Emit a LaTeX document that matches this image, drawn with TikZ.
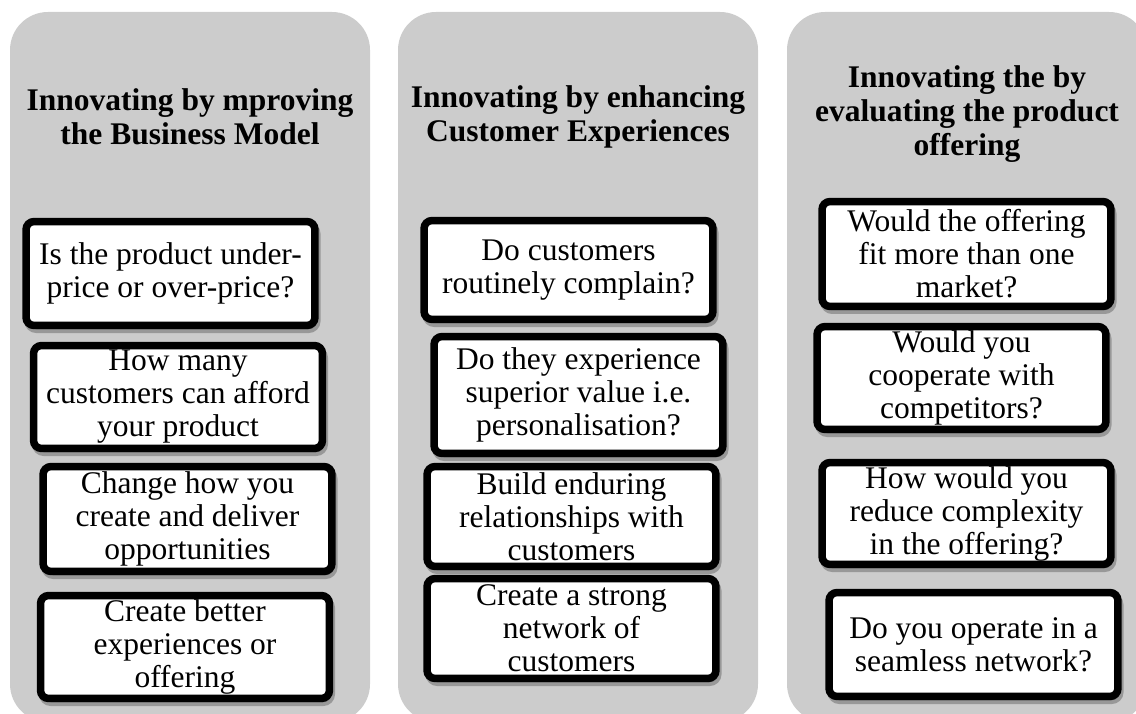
\documentclass[tikz,border=0pt]{standalone}
\usepackage{fontspec}
\setmainfont{Liberation Serif}
\usetikzlibrary{shadows}
\definecolor{panelgrey}{RGB}{204,204,204}
\newcommand{\qfont}{\fontsize{31.5}{33}\selectfont}
\newcommand{\hfont}{\bfseries\fontsize{31.5}{34}\selectfont}

\begin{document}
\begin{tikzpicture}[x=1pt, y=-1pt,
    panel/.style={fill=panelgrey, rounded corners=38pt},
    head/.style={font=\hfont, align=center, inner sep=0pt},
    qbox/.style={fill=white, rounded corners=8pt, inner sep=0pt, align=center, font=\qfont,
        minimum width=288.5pt, minimum height=#1,
        drop shadow={shadow xshift=2pt, shadow yshift=-4pt, fill=black, draw=black, line width=7.5pt, opacity=0.25}},
    qedge/.style={draw=black, line width=7.5pt, rounded corners=8pt}]
    \useasboundingbox (0,0) rectangle (1136,714);
    \clip (0,0) rectangle (1136,714);
    \fill[panel] (10,12) rectangle (370,722);
    \fill[panel] (398,12) rectangle (758,722);
    \fill[panel] (787,12) rectangle (1147,722);

    \node[head] (ta) at (190,117) {Innovating by mproving\\the Business Model};
    \node[head] (tb) at (578,117) {Innovating by enhancing\\Customer Experiences};
    \node[head] (tc) at (967,114) {Innovating the by\\evaluating the product\\offering};

    \node[qbox=103.5pt] (a1) at (170.5,273.5) {Is the product under-\\price or over-price?};
    \node[qbox=102.5pt] (a2) at (178,397) {How many\\customers can afford\\your product};
    \node[qbox=104.5pt] (a3) at (187.5,519) {Change how you\\create and deliver\\opportunities};
    \node[qbox=102.5pt] (a4) at (185,647) {Create better\\experiences or\\offering};

    \node[qbox=98.5pt] (b1) at (568.5,270) {Do customers\\routinely complain?};
    \node[qbox=116.5pt] (b2) at (578.5,395) {Do they experience\\superior value i.e.\\personalisation?};
    \node[qbox=99.5pt] (b3) at (571.5,516.5) {Build enduring\\relationships with\\customers};
    \node[qbox=99.5pt] (b4) at (571.5,628.5) {Create a strong\\network of\\customers};

    \node[qbox=104.5pt] (c1) at (966.5,254) {Would the offering\\fit more than one\\market?};
    \node[qbox=102.5pt] (c2) at (961.5,378) {Would you\\cooperate with\\competitors?};
    \node[qbox=101.5pt] (c3) at (966.5,513.5) {How would you\\reduce complexity\\in the offering?};
    \node[qbox=103.5pt] (c4) at (973.5,644.5) {Do you operate in a\\seamless network?};

    \foreach \n in {a1,a2,a3,a4,b1,b2,b3,b4,c1,c2,c3,c4}
        \draw[qedge] (\n.north west) rectangle (\n.south east);
\end{tikzpicture}
\end{document}
